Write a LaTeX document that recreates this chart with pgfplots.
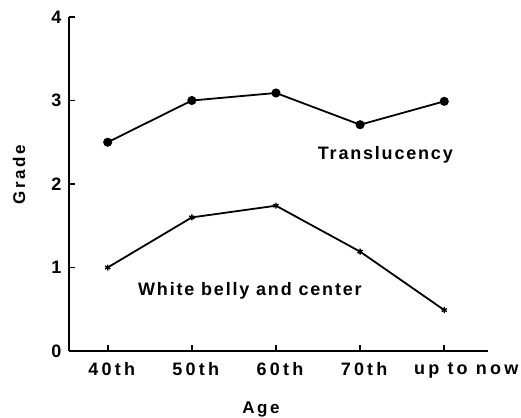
\documentclass[border=0pt]{standalone}
\usepackage{fontspec}
\setmainfont{Liberation Sans}[LetterSpace=10]
\newfontfamily\tickfont{Liberation Sans}[LetterSpace=18]
\newfontfamily\labfont{Liberation Sans}[LetterSpace=15]
\usepackage{pgfplots}
\pgfplotsset{compat=1.18}
\begin{document}
\begin{tikzpicture}
\pgfplotstableread{
x y
0 2.50
1 3.00
2 3.09
3 2.71
4 2.99
}\translucency
\pgfplotstableread{
x y
0 1.00
1 1.60
2 1.74
3 1.19
4 0.49
}\whitebelly
\begin{axis}[
  at={(0,0)}, anchor=south west,
  scale only axis, width=419pt, height=334pt,
  xmin=-0.46, xmax=4.52, ymin=0, ymax=4,
  axis x line*=bottom, axis y line*=left,
  axis line style={line width=2pt, -},
  xtick={0,1,2,3,4},
  xticklabels={40th,50th,60th,70th,{\hspace*{36pt}up to now}},
  ytick={0,1,2,3,4},
  tick style={black, line width=1.6pt},
  tick align=inside,
  major tick length=6pt,
  /pgf/number format/assume math mode=true,
  ticklabel style={font=\tickfont\bfseries\fontsize{18}{20}\selectfont},
  xticklabel style={yshift=-8pt, xshift=4pt},
  yticklabel style={xshift=-4pt},
  label style={font=\labfont\bfseries\fontsize{17}{20}\selectfont},
  xlabel={Age},
  ylabel={Grade},
  xlabel style={at={(axis description cs:0.458,0)}, anchor=north, yshift=-47pt},
  ylabel style={at={(axis description cs:-0.105,0.528)}, anchor=base, rotate=0},
  clip=false,
]
\addplot[black, line width=1.8pt, mark=*, mark size=3.6pt] table {\translucency};
\addplot[black, line width=1.8pt, mark=asterisk, mark size=3pt, mark options={line width=1.4pt}] table {\whitebelly};
\node[anchor=base, font=\bfseries\fontsize{18}{20}\selectfont] at (axis cs:3.30,2.29) {Translucency};
\node[anchor=base, font=\bfseries\fontsize{18}{20}\selectfont] at (axis cs:1.69,0.67) {White belly and center};
\end{axis}
\pgfresetboundingbox
\path (-69pt,-66pt) rectangle (452pt,351pt);
\end{tikzpicture}
\end{document}
